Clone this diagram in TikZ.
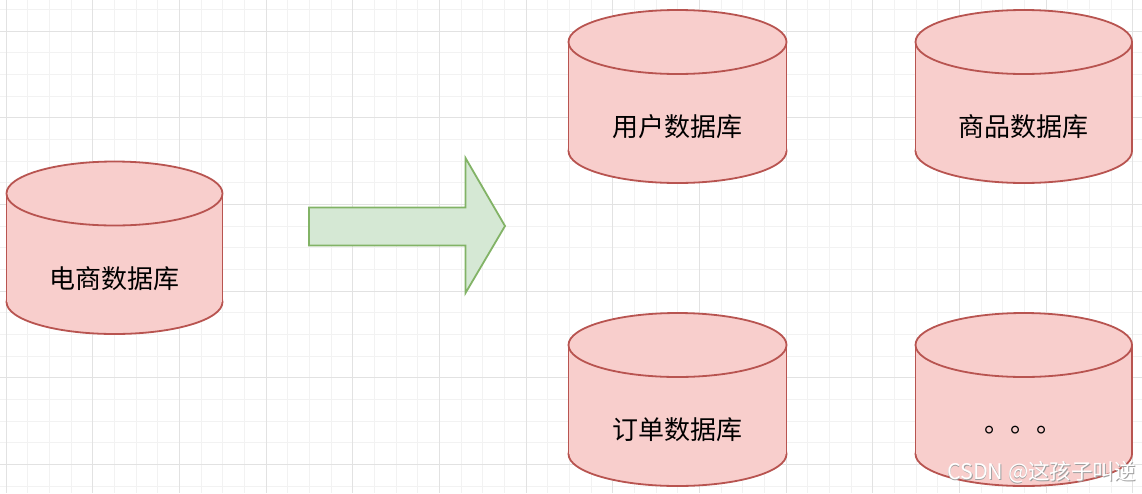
\documentclass[tikz,border=0pt]{standalone}
\usepackage{fontspec}
\newfontfamily\cjk{Noto Sans CJK SC}
\definecolor{cylfill}{HTML}{F8CECC}
\definecolor{cylline}{HTML}{B85450}
\definecolor{arrfill}{HTML}{D5E8D4}
\definecolor{arrline}{HTML}{82B366}
\definecolor{gridminor}{HTML}{F2F2F2}
\definecolor{gridmajor}{HTML}{E2E2E2}
\tikzset{
  cylshape/.style={fill=cylfill, draw=cylline, line width=1.8pt},
  cylside/.style={draw=cylline, line width=1.8pt},
  dbtext/.style={font=\cjk\fontsize{26}{30}\selectfont, text=black, inner sep=0pt},
  bigarrow/.style={fill=arrfill, draw=arrline, line width=1.8pt, line join=miter},
  wmark/.style={font=\cjk\fontsize{21.5}{24}\selectfont, inner sep=0pt},
}
\newcommand\dbcyl[6]{%
  \pgfmathsetmacro\cylcx{(#2+#4)/2}%
  \pgfmathsetmacro\cylrx{(#4-#2)/2}%
  \path[cylshape] (\cylcx,#5-32) ellipse[x radius=\cylrx, y radius=32];
  \fill[cylfill] (#2,#3+32) rectangle (#4,#5-32);
  \path[cylside] (#2,#3+32) -- (#2,#5-32) (#4,#3+32) -- (#4,#5-32);
  \path[cylshape] (\cylcx,#3+32) ellipse[x radius=\cylrx, y radius=32];
  \node[dbtext] (#1) at (\cylcx,#3+117) {#6};
}
\begin{document}
\begin{tikzpicture}[x=1pt,y=-1pt]
\useasboundingbox (0,0) rectangle (1142,493);
\fill[white] (0,0) rectangle (1142,493);
% grid
\foreach \k in {0,...,52}{\pgfmathsetmacro\gx{6+21.6667*\k}\draw[gridminor,line width=1pt] (\gx,0) -- (\gx,493);}
\foreach \k in {0,...,22}{\pgfmathsetmacro\gy{9.333+21.6667*\k}\draw[gridminor,line width=1pt] (0,\gy) -- (1142,\gy);}
\foreach \k in {0,...,13}{\pgfmathsetmacro\gx{6+86.6667*\k}\draw[gridmajor,line width=1pt] (\gx,0) -- (\gx,493);}
\foreach \k in {0,...,5}{\pgfmathsetmacro\gy{31+86.6667*\k}\draw[gridmajor,line width=1pt] (0,\gy) -- (1142,\gy);}
% cylinders
\dbcyl{ecom}{6.5}{161.5}{222.5}{334}{电商数据库}
\dbcyl{user}{568.5}{10}{786.5}{183}{用户数据库}
\dbcyl{goods}{915.5}{10}{1132}{183}{商品数据库}
\dbcyl{order}{568.5}{313}{786.5}{486}{订单数据库}
\dbcyl{more}{915.5}{313}{1132}{486}{。。。}
% big arrow
\path[bigarrow] (309,207.5) -- (465.5,207.5) -- (465.5,158) -- (505,226) -- (465.5,293) -- (465.5,245.5) -- (309,245.5) -- cycle;
% watermark
\node[wmark, text=gray!75] (wms) at (1042.3,472.8) {CSDN @这孩子叫逆};
\node[wmark, text=white] (wm) at (1041.5,472) {CSDN @这孩子叫逆};
\end{tikzpicture}
\end{document}
